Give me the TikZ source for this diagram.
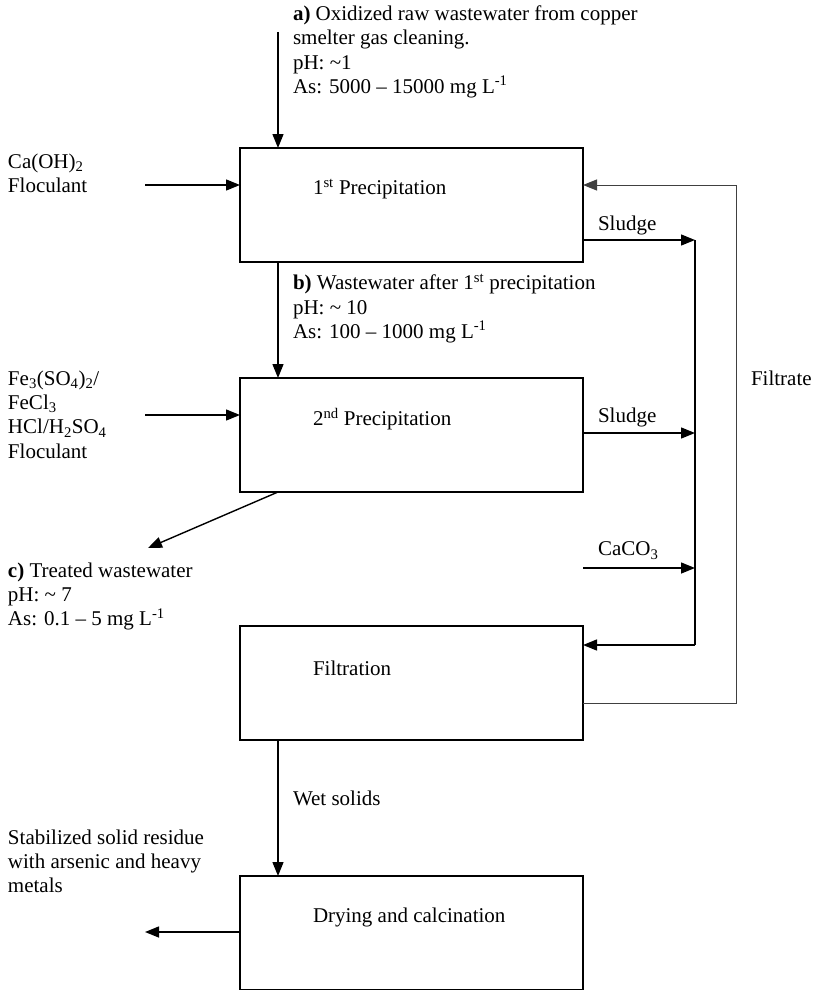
\documentclass[tikz,border=0pt]{standalone}
\usepackage{fontspec}
\setmainfont{Liberation Serif}
\usetikzlibrary{arrows.meta}
\begin{document}
\begin{tikzpicture}[x=1pt,y=-1pt,
  every node/.style={inner sep=0pt,outer sep=0pt},
  txt/.style={font=\fontsize{21}{24.2}\selectfont,align=left,anchor=north west},
  box/.style={draw,line width=1.8pt,minimum width=343pt,minimum height=114pt,anchor=north west},
  arr/.style={line width=1.4pt,-{Triangle[length=14pt,width=11pt]}},
  thin/.style={line width=1pt,draw=black!75}]
\useasboundingbox (0,0) rectangle (813,990);
% boxes
\node[box] (box1) at (240,148) {};
\node[box] (box2) at (240,378) {};
\node[box] (box3) at (240,626) {};
\node[box] (box4) at (240,876) {};
\node[txt,anchor=west] (l1) at (313,189) {1\textsuperscript{st} Precipitation};
\node[txt,anchor=west] (l2) at (313,419) {2\textsuperscript{nd} Precipitation};
\node[txt,anchor=west] (l3) at (313,668) {Filtration};
\node[txt,anchor=west] (l4) at (313,917) {Drying and calcination};
% texts
\node[txt] (ta) at (293,6) {\textbf{a)} Oxidized raw wastewater from copper\\smelter gas cleaning.\\pH: \textasciitilde1\\As: 5000 -- 15000 mg L\textsuperscript{-1}};
\node[txt] (tin1) at (8,154) {Ca(OH)\textsubscript{2}\\Floculant};
\node[txt] (tb) at (293,274) {\textbf{b)} Wastewater after 1\textsuperscript{st} precipitation\\pH: \textasciitilde\ 10\\As: 100 -- 1000 mg L\textsuperscript{-1}};
\node[txt] (tin2) at (8,371) {Fe\textsubscript{3}(SO\textsubscript{4})\textsubscript{2}/\\FeCl\textsubscript{3}\\HCl/H\textsubscript{2}SO\textsubscript{4}\\Floculant};
\node[txt] (tc) at (8,563) {\textbf{c)} Treated wastewater\\pH: \textasciitilde\ 7\\As: 0.1 -- 5 mg L\textsuperscript{-1}};
\node[txt] (tout) at (8,830) {Stabilized solid residue\\with arsenic and heavy\\metals};
\node[txt] (sl1) at (598,216) {Sludge};
\node[txt] (sl2) at (598,408) {Sludge};
\node[txt] (caco) at (598,542) {CaCO\textsubscript{3}};
\node[txt] (filt) at (751,371) {Filtrate};
\node[txt] (wet) at (293,791) {Wet solids};
% coordinates
\coordinate (a0) at (278,32);
\coordinate (i1) at (145,185);
\coordinate (i2) at (145,415);
\coordinate (o1) at (148,548);
\coordinate (b2s) at (278,492);
\coordinate (o2) at (145,932);
\coordinate (j1) at (695,240);
\coordinate (j2) at (695,433);
\coordinate (j3) at (695,568);
\coordinate (j4) at (695,645);
\coordinate (c0) at (583,568);
\coordinate (f1) at (736,703);
\coordinate (f2) at (736,185);
% connectors
\draw[arr] (a0) -- (a0 |- box1.north);
\draw[arr] (i1) -- (i1 -| box1.west);
\draw[arr] (a0 |- box1.south) -- (a0 |- box2.north);
\draw[arr] (i2) -- (i2 -| box2.west);
\draw[arr] (b2s) -- (o1);
\draw[arr] (j1 -| box1.east) -- (j1);
\draw[arr] (j2 -| box2.east) -- (j2);
\draw[arr] (c0) -- (j3);
\draw[line width=1.4pt] (j1) -- (j4);
\draw[arr] (j4) -- (j4 -| box3.east);
\draw[thin,-{Triangle[length=14pt,width=11pt]}] (f1 -| box3.east) -- (f1) -- (f2) -- (f2 -| box1.east);
\draw[arr] (a0 |- box3.south) -- (a0 |- box4.north);
\draw[arr] (o2 -| box4.west) -- (o2);
\end{tikzpicture}
\end{document}
